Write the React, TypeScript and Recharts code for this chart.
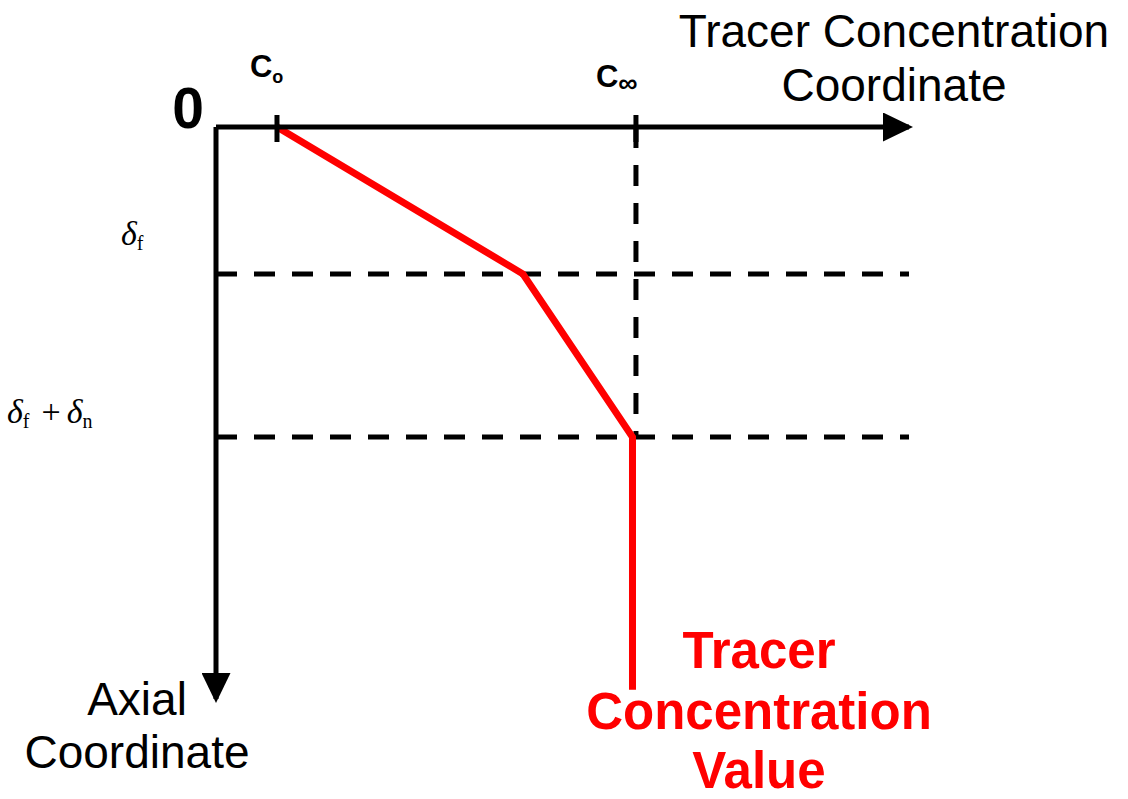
import React from 'react';
import { LineChart, Line, XAxis, YAxis, ReferenceLine } from 'recharts';

// red profile: tracer concentration vs. axial position (arbitrary units, 0-100)
const concentration = [8.8, 44.3, 60.1, 60.1];
const axialPosition = [0, 25.7, 54.2, 98.4];

const inletConc = 8.8; // C_o
const equilibriumConc = 60.6; // C_inf
const deltaF = 25.7;
const deltaFN = 54.2;

const concTicks = [inletConc, equilibriumConc];
const depthTicks = [0, deltaF, deltaFN];

const xTitle = ['Tracer Concentration', 'Coordinate'];
const yTitle = ['Axial', 'Coordinate'];
const seriesTitle = ['Tracer', 'Concentration', 'Value'];

const rows = concentration.map((c, i) => ({ c, z: axialPosition[i] }));

const SANS = '"Liberation Sans", Arial, sans-serif';
const SERIF = '"Liberation Serif", "Times New Roman", serif';

function ConcTick(props: any) {
  const { x, y, payload } = props;
  const first = payload.value === inletConc;
  return (
    <g>
      <line x1={x} x2={x} y1={y - 12} y2={y + 15} stroke="#000" strokeWidth={5} />
      <text
        x={x + (first ? -27 : -40)}
        y={y + (first ? -50 : -40)}
        fontFamily={SANS}
        fontWeight="bold"
        fontSize={31}
        fill="#000"
      >
        C
        {first ? (
          <tspan fontSize={18} dy={6}>o</tspan>
        ) : (
          <tspan fontSize={27} dy={5}>∞</tspan>
        )}
      </text>
    </g>
  );
}

function DepthTick(props: any) {
  const { x, y, payload } = props;
  if (payload.value === 0) {
    return (
      <text x={x - 28} y={y + 1} textAnchor="middle" fontFamily={SANS} fontWeight="bold" fontSize={57} fill="#000">
        0
      </text>
    );
  }
  if (payload.value === deltaF) {
    return (
      <text x={x - 95} y={y - 29} fontFamily={SERIF} fontSize={34} fill="#000">
        <tspan fontStyle="italic">δ</tspan>
        <tspan fontSize={20} dy={5}>f</tspan>
      </text>
    );
  }
  return (
    <text x={x - 209} y={y - 14} fontFamily={SERIF} fontSize={34} fill="#000">
      <tspan fontStyle="italic">δ</tspan>
      <tspan fontSize={20} dy={5}>f</tspan>
      <tspan dy={-5} dx={12}>+</tspan>
      <tspan fontStyle="italic" dx={6}>δ</tspan>
      <tspan fontSize={20} dy={5}>n</tspan>
    </text>
  );
}

const axisLine = { stroke: '#000', strokeWidth: 5, markerEnd: 'url(#axisArrow)' };

export default function App() {
  return (
    <div style={{ position: 'absolute', left: 0, top: 0, width: 1128, height: 799, background: '#fff' }}>
      <LineChart
        width={1128}
        height={799}
        data={rows}
        margin={{ top: 126, left: 215, right: 219, bottom: 100 }}
      >
        <defs>
          <marker
            id="axisArrow"
            markerUnits="userSpaceOnUse"
            markerWidth={30}
            markerHeight={29}
            viewBox="0 0 30 29"
            refX={26}
            refY={14.5}
            orient="auto"
          >
            <path d="M0,0 L30,14.5 L0,29 Z" fill="#000" />
          </marker>
        </defs>
        <XAxis
          dataKey="c"
          type="number"
          domain={[0, 100]}
          orientation="top"
          height={1}
          ticks={concTicks}
          interval={0}
          tick={<ConcTick />}
          tickLine={false}
          tickSize={0}
          tickMargin={0}
          axisLine={axisLine}
        />
        <YAxis
          type="number"
          domain={[0, 100]}
          reversed
          width={1}
          ticks={depthTicks}
          interval={0}
          tick={<DepthTick />}
          tickLine={false}
          tickSize={0}
          tickMargin={0}
          axisLine={axisLine}
        />
        <ReferenceLine y={deltaF} stroke="#000" strokeWidth={5} strokeDasharray="21 17" />
        <ReferenceLine y={deltaFN} stroke="#000" strokeWidth={5} strokeDasharray="21 17" />
        <ReferenceLine
          segment={[
            { x: equilibriumConc, y: 0 },
            { x: equilibriumConc, y: deltaFN },
          ]}
          stroke="#000"
          strokeWidth={5}
          strokeDasharray="21 17"
        />
        <Line
          type="linear"
          dataKey="z"
          stroke="#ff0000"
          strokeWidth={7}
          dot={false}
          activeDot={false}
          isAnimationActive={false}
        />
        <text x={894} y={47} textAnchor="middle" fontFamily={SANS} fontSize={46} fill="#000">
          {xTitle[0]}
        </text>
        <text x={894} y={101} textAnchor="middle" fontFamily={SANS} fontSize={46} fill="#000">
          {xTitle[1]}
        </text>
        <text x={137} y={715} textAnchor="middle" fontFamily={SANS} fontSize={46} fill="#000">
          {yTitle[0]}
        </text>
        <text x={137} y={768} textAnchor="middle" fontFamily={SANS} fontSize={46} fill="#000">
          {yTitle[1]}
        </text>
        {seriesTitle.map((t, i) => (
          <text
            key={t}
            x={759}
            y={[668, 729, 788][i]}
            textAnchor="middle"
            fontFamily={SANS}
            fontWeight="bold"
            fontSize={51}
            fill="#ff0000"
          >
            {t}
          </text>
        ))}
      </LineChart>
    </div>
  );
}
